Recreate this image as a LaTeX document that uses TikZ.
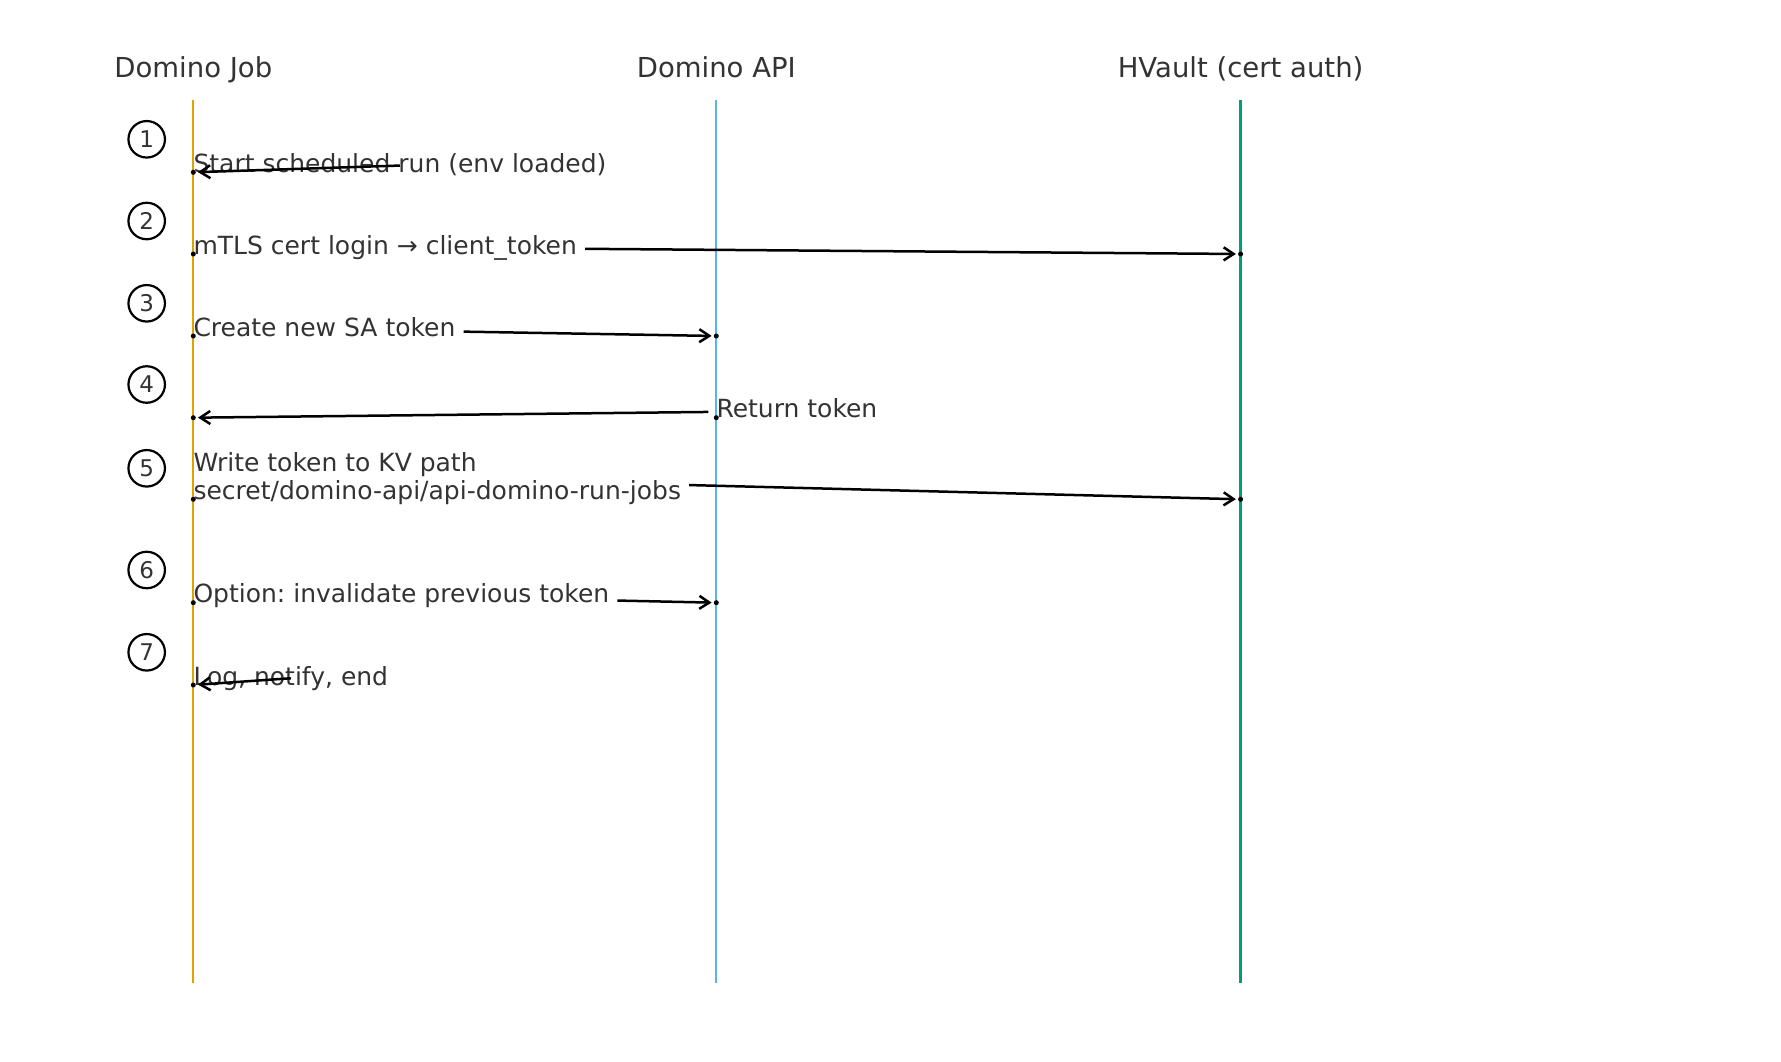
\documentclass[tikz,border=0pt]{standalone}
\usepackage{fontspec}
\setmainfont{DejaVu Sans}
\usetikzlibrary{arrows.meta}
\frenchspacing

\definecolor{jobline}{HTML}{E69F00}
\definecolor{apiline}{HTML}{56B4E9}
\definecolor{vaultline}{HTML}{009E73}
\definecolor{labelgray}{HTML}{333333}

\tikzset{
  actor/.style={font=\fontsize{27.5}{33}\selectfont,text=labelgray,anchor=base,inner sep=0pt},
  lifeline/.style={line width=2.3pt},
  stepnum/.style={circle,draw=black,line width=2.2pt,minimum size=36.5pt,inner sep=0pt,
    font=\fontsize{23}{26}\selectfont,text=labelgray},
  msg/.style={font=\fontsize{25}{27.5}\selectfont,text=labelgray,anchor=base west,
    inner xsep=8pt,inner ysep=1pt,text height=18.5pt,text depth=5pt,xshift=-8pt},
  msgtwo/.style={font=\fontsize{25}{27.5}\selectfont,text=labelgray,anchor=base west,
    align=left,inner xsep=8pt,inner ysep=1pt,xshift=-8pt},
  evtdot/.style={circle,fill=black,inner sep=0pt,minimum size=5pt},
  call/.style={-{Straight Barb[length=10pt,width=13pt]},line width=2.5pt,shorten >=2pt}
}

\begin{document}
\begin{tikzpicture}[x=1pt,y=-1pt]
\useasboundingbox[fill=white] (0,0) rectangle (1781,1062);

% participants
\node[actor] (job) at (193.3,77.5) {Domino Job};
\node[actor] (api) at (716.3,77.5) {Domino API};
\node[actor] (vault) at (1240.6,77.5) {HVault (cert auth)};
\draw[lifeline,jobline] (193.3,100) -- (193.3,983.3);
\draw[lifeline,apiline] (716.3,100) -- (716.3,983.3);
\draw[lifeline,vaultline] (1240.6,100) -- (1240.6,983.3);

% step numbers
\node[stepnum] (s1) at (146.7,139.3) {1};
\node[stepnum] (s2) at (146.7,221) {2};
\node[stepnum] (s3) at (146.7,303.3) {3};
\node[stepnum] (s4) at (146.7,384.5) {4};
\node[stepnum] (s5) at (146.7,468.3) {5};
\node[stepnum] (s6) at (146.7,570) {6};
\node[stepnum] (s7) at (146.7,652.3) {7};

% event points
\node[evtdot] (j1) at (193.3,172.3) {};
\node[evtdot] (j2) at (193.3,254) {};
\node[evtdot] (v2) at (1240.6,254) {};
\node[evtdot] (j3) at (193.3,336) {};
\node[evtdot] (a3) at (716.3,336) {};
\node[evtdot] (j4) at (193.3,417.7) {};
\node[evtdot] (a4) at (716.3,417.7) {};
\node[evtdot] (j5) at (193.3,499.3) {};
\node[evtdot] (v5) at (1240.6,499.3) {};
\node[evtdot] (j6) at (193.3,602.7) {};
\node[evtdot] (a6) at (716.3,602.7) {};
\node[evtdot] (j7) at (193.3,685) {};

% messages
\node[msg] (m1) at (j1.center) {Start scheduled run (env loaded)};
\node[msg] (m2) at (j2.center) {mTLS cert login → client\_token};
\node[msg] (m3) at (j3.center) {Create new SA token};
\node[msg] (m4) at (a4.center) {Return token};
\node[msgtwo] (m5) at (j5.center) {Write token to KV path\\secret/domino-api/api-domino-run-jobs};
\node[msg] (m6) at (j6.center) {Option: invalidate previous token};
\node[msg] (m7) at (j7.center) {Log, notify, end};

\draw[call] (m1.center) -- (j1);
\draw[call] (m2) -- (v2);
\draw[call] (m3) -- (a3);
\draw[call] (m4) -- (j4);
\draw[call] (m5) -- (v5);
\draw[call] (m6) -- (a6);
\draw[call] (m7.center) -- (j7);

\end{tikzpicture}
\end{document}
